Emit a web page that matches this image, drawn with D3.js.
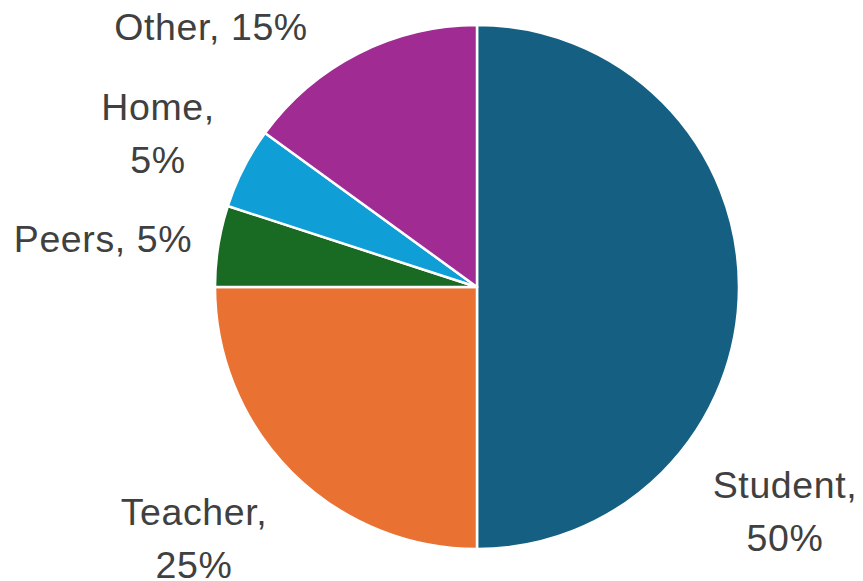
<!DOCTYPE html>
<html><head><meta charset="utf-8">
<script src="https://cdn.jsdelivr.net/npm/d3@7"></script>
<style>html,body{margin:0;padding:0;background:#fff;}</style>
</head><body>
<svg id="chart" width="863" height="581"></svg>
<script>
const categories = ["Student", "Teacher", "Peers", "Home", "Other"];
const values = [50, 25, 5, 5, 15];
const colors = ["#156082", "#E97132", "#196B24", "#0F9ED5", "#A02B93"];
// label lines per category (text), and layout anchors (x center, first baseline)
const labelLines = [["Student,", "50%"], ["Teacher,", "25%"], ["Peers, 5%"], ["Home,", "5%"], ["Other, 15%"]];
const labelAnchor = {Student:[785,498], Teacher:[194,525], Peers:[103,252], Home:[158,120], Other:[211,40]};

const svg = d3.select("#chart");
const cx = 477, cy = 287, R = 262;
const pie = d3.pie().sort(null).value(d => d.v);
const data = categories.map((c,i)=>({c, v: values[i], col: colors[i], lines: labelLines[i]}));
const arcs = pie(data);
const arc = d3.arc().innerRadius(0).outerRadius(R);
const g = svg.append("g").attr("transform", `translate(${cx},${cy})`);
g.selectAll("path").data(arcs).join("path")
  .attr("d", arc).attr("fill", d => d.data.col)
  .attr("stroke", "#fff").attr("stroke-width", 2.5).attr("stroke-linejoin","round");

const lineH = 53;
data.forEach(d => {
  const [x,y] = labelAnchor[d.c];
  const t = svg.append("text").attr("x", x).attr("y", y)
    .attr("text-anchor","middle")
    .attr("font-family","'Liberation Sans', Arial, sans-serif")
    .attr("font-size", 37.5).attr("letter-spacing", 0.6).attr("fill","#404040");
  d.lines.forEach((l,i)=>{
    t.append("tspan").attr("x", x).attr("y", y + i*lineH).text(l);
  });
});
</script>
</body></html>
